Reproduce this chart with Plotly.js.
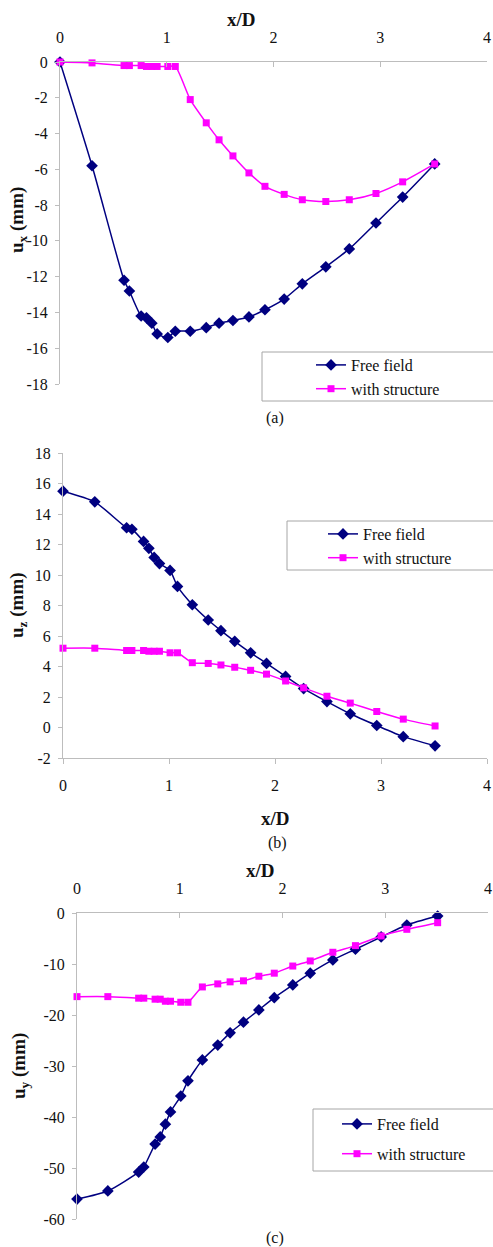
<!DOCTYPE html>
<html>
<head>
<meta charset="utf-8">
<script src="https://cdn.plot.ly/plotly-3.0.1.min.js"></script>
<style>
  html, body { margin: 0; padding: 0; background: #fff; }
  #chart { width: 493px; height: 1247px; }
</style>
</head>
<body>
<div id="chart"></div>
<script>
// Normalised distance from the centreline
const xD = [0, 0.3, 0.6, 0.65, 0.76, 0.81, 0.86, 0.91, 1.01, 1.08, 1.22, 1.37, 1.49, 1.62, 1.77, 1.92, 2.1, 2.27, 2.49, 2.71, 2.96, 3.21, 3.51];

// (a) horizontal displacement u_x (mm)
const uxFree = [0, -5.8, -12.2, -12.8, -14.2, -14.3, -14.6, -15.2, -15.4, -15.05, -15.05, -14.85, -14.6, -14.45, -14.25, -13.85, -13.25, -12.4, -11.45, -10.45, -9.0, -7.55, -5.7];
const uxStruct = [0, -0.05, -0.2, -0.2, -0.2, -0.25, -0.25, -0.25, -0.25, -0.25, -2.1, -3.4, -4.35, -5.25, -6.2, -6.95, -7.4, -7.7, -7.8, -7.7, -7.35, -6.7, -5.7];

// (b) vertical displacement u_z (mm)
const uzFree = [15.5, 14.8, 13.1, 13.0, 12.2, 11.75, 11.15, 10.75, 10.3, 9.25, 8.05, 7.05, 6.35, 5.65, 4.9, 4.2, 3.35, 2.55, 1.7, 0.9, 0.13, -0.6, -1.2];
const uzStruct = [5.2, 5.2, 5.05, 5.05, 5.05, 5.0, 5.0, 5.0, 4.9, 4.9, 4.25, 4.2, 4.1, 3.95, 3.75, 3.5, 3.05, 2.6, 2.05, 1.6, 1.05, 0.55, 0.1];

// (c) displacement u_y (mm)
const uyFree = [-56.1, -54.5, -50.8, -49.8, -45.3, -43.9, -41.4, -39.0, -35.9, -32.9, -28.8, -25.9, -23.5, -21.4, -19.0, -16.6, -14.1, -11.8, -9.2, -7.1, -4.7, -2.35, -0.6];
const uyStruct = [-16.4, -16.4, -16.7, -16.7, -16.9, -16.9, -17.3, -17.3, -17.5, -17.5, -14.5, -13.9, -13.5, -13.3, -12.4, -11.8, -10.4, -9.4, -7.7, -6.4, -4.5, -3.2, -1.9];

// Tick values and labels
const xTicks = [0, 1, 2, 3, 4];
const xTickText = ['0', '1', '2', '3', '4'];
const uxTicks = [0, -2, -4, -6, -8, -10, -12, -14, -16, -18];
const uxTickText = ['0', '-2', '-4', '-6', '-8', '-10', '-12', '-14', '-16', '-18'];
const uzTicks = [18, 16, 14, 12, 10, 8, 6, 4, 2, 0, -2];
const uzTickText = ['18', '16', '14', '12', '10', '8', '6', '4', '2', '0', '-2'];
const uyTicks = [0, -10, -20, -30, -40, -50, -60];
const uyTickText = ['0', '-10', '-20', '-30', '-40', '-50', '-60'];

const seriesNames = ['Free field', 'with structure'];

const W = 493, H = 1247;
const px = v => v / W;          // horizontal pixel -> paper
const py = v => 1 - v / H;      // vertical pixel -> paper

const FONT = "'Liberation Serif', 'Times New Roman', serif";
const NAVY = '#000080';
const MAGENTA = '#FF00FF';
const AXIS = '#bdbdbd';

function freeTrace(y, xa, ya, leg) {
  return {
    x: xD, y: y, xaxis: xa, yaxis: ya, name: seriesNames[0],
    type: 'scatter', mode: 'lines+markers', cliponaxis: false,
    legend: leg, legendgroup: leg + 'f',
    line: { color: NAVY, width: 1.5, shape: 'spline', smoothing: 0.6 },
    marker: { symbol: 'diamond', size: 9, color: NAVY }
  };
}
function structTrace(y, xa, ya, leg) {
  return {
    x: xD, y: y, xaxis: xa, yaxis: ya, name: seriesNames[1],
    type: 'scatter', mode: 'lines+markers', cliponaxis: false,
    legend: leg, legendgroup: leg + 's',
    line: { color: MAGENTA, width: 1.5, shape: 'spline', smoothing: 0.6 },
    marker: { symbol: 'square', size: 7, color: MAGENTA }
  };
}

const data = [
  freeTrace(uxFree, 'x', 'y', 'legend'),
  structTrace(uxStruct, 'x', 'y', 'legend'),
  freeTrace(uzFree, 'x2', 'y2', 'legend2'),
  structTrace(uzStruct, 'x2', 'y2', 'legend2'),
  freeTrace(uyFree, 'x3', 'y3', 'legend3'),
  structTrace(uyStruct, 'x3', 'y3', 'legend3')
];

const tickFont = { family: FONT, size: 16, color: '#111' };

function xAxis(left, right, anchor, side) {
  return {
    domain: [px(left), px(right)], anchor: anchor, side: side,
    range: [0, 4], tickvals: xTicks, ticktext: xTickText,
    showline: true, linecolor: AXIS, linewidth: 1,
    ticks: side === 'top' ? 'inside' : 'outside', ticklen: 5, tickcolor: AXIS,
    ticklabelstandoff: side === 'top' ? 12 : 8,
    showgrid: false, zeroline: false, tickfont: tickFont, fixedrange: true
  };
}
function yAxis(top, bottom, anchor, range, vals, text) {
  return {
    domain: [py(bottom), py(top)], anchor: anchor,
    range: range, tickvals: vals, ticktext: text,
    showline: true, linecolor: AXIS, linewidth: 1,
    ticks: 'outside', ticklen: 4, tickcolor: AXIS, ticklabelstandoff: 4,
    showgrid: false, zeroline: false, tickfont: tickFont, fixedrange: true
  };
}

const legendBase = {
  bgcolor: 'rgba(0,0,0,0)', borderwidth: 0,
  font: { family: FONT, size: 16, color: '#111' },
  xanchor: 'left', yanchor: 'top', itemclick: false, itemdoubleclick: false,
  traceorder: 'grouped'
};

const titleFont = { family: FONT, size: 19, color: '#111' };
const capFont = { family: FONT, size: 16, color: '#111' };

function ann(text, x, y, font, angle) {
  return {
    text: text, x: px(x), y: py(y), xref: 'paper', yref: 'paper',
    showarrow: false, xanchor: 'center', yanchor: 'middle',
    font: font, textangle: angle || 0
  };
}

function legendBox(x0, y0, y1) {
  return {
    type: 'rect', xref: 'paper', yref: 'paper',
    x0: px(x0), x1: px(W + 20), y0: py(y1), y1: py(y0),
    line: { color: '#a6a6a6', width: 1 }, fillcolor: '#fff', layer: 'below'
  };
}

const layout = {
  width: W, height: H,
  margin: { l: 0, r: 0, t: 0, b: 0 },
  paper_bgcolor: '#fff', plot_bgcolor: 'rgba(0,0,0,0)',
  font: { family: FONT },
  xaxis: xAxis(60, 487, 'y', 'top'),
  yaxis: yAxis(62, 384, 'x', [-18, 0], uxTicks, uxTickText),
  xaxis2: xAxis(63, 487, 'y2', 'bottom'),
  yaxis2: yAxis(453, 758, 'x2', [-2, 18], uzTicks, uzTickText),
  xaxis3: xAxis(77, 488, 'y3', 'top'),
  yaxis3: yAxis(913, 1219, 'x3', [-60, 0], uyTicks, uyTickText),
  legend: Object.assign({}, legendBase, { x: px(311), y: py(348), tracegroupgap: 0 }),
  legend2: Object.assign({}, legendBase, { x: px(323), y: py(517), tracegroupgap: 0 }),
  legend3: Object.assign({}, legendBase, { x: px(337), y: py(1107), tracegroupgap: 6 }),
  shapes: [
    legendBox(262, 352, 401),
    legendBox(287, 521, 570),
    legendBox(313, 1109, 1171)
  ],
  annotations: [
    ann('<b>x/D</b>', 241, 20, titleFont),
    ann('<b>u<sub>x</sub> (mm)</b>', 18, 220, titleFont, -90),
    ann('(a)', 275, 418, capFont),
    ann('<b>u<sub>z</sub> (mm)</b>', 18, 605, titleFont, -90),
    ann('<b>x/D</b>', 275, 818, titleFont),
    ann('(b)', 277, 843, capFont),
    ann('<b>x/D</b>', 260, 870, titleFont),
    ann('<b>u<sub>y</sub> (mm)</b>', 20, 1066, titleFont, -90),
    ann('(c)', 275, 1238, capFont)
  ]
};

Plotly.newPlot('chart', data, layout, { displayModeBar: false, staticPlot: true });
</script>
</body>
</html>
